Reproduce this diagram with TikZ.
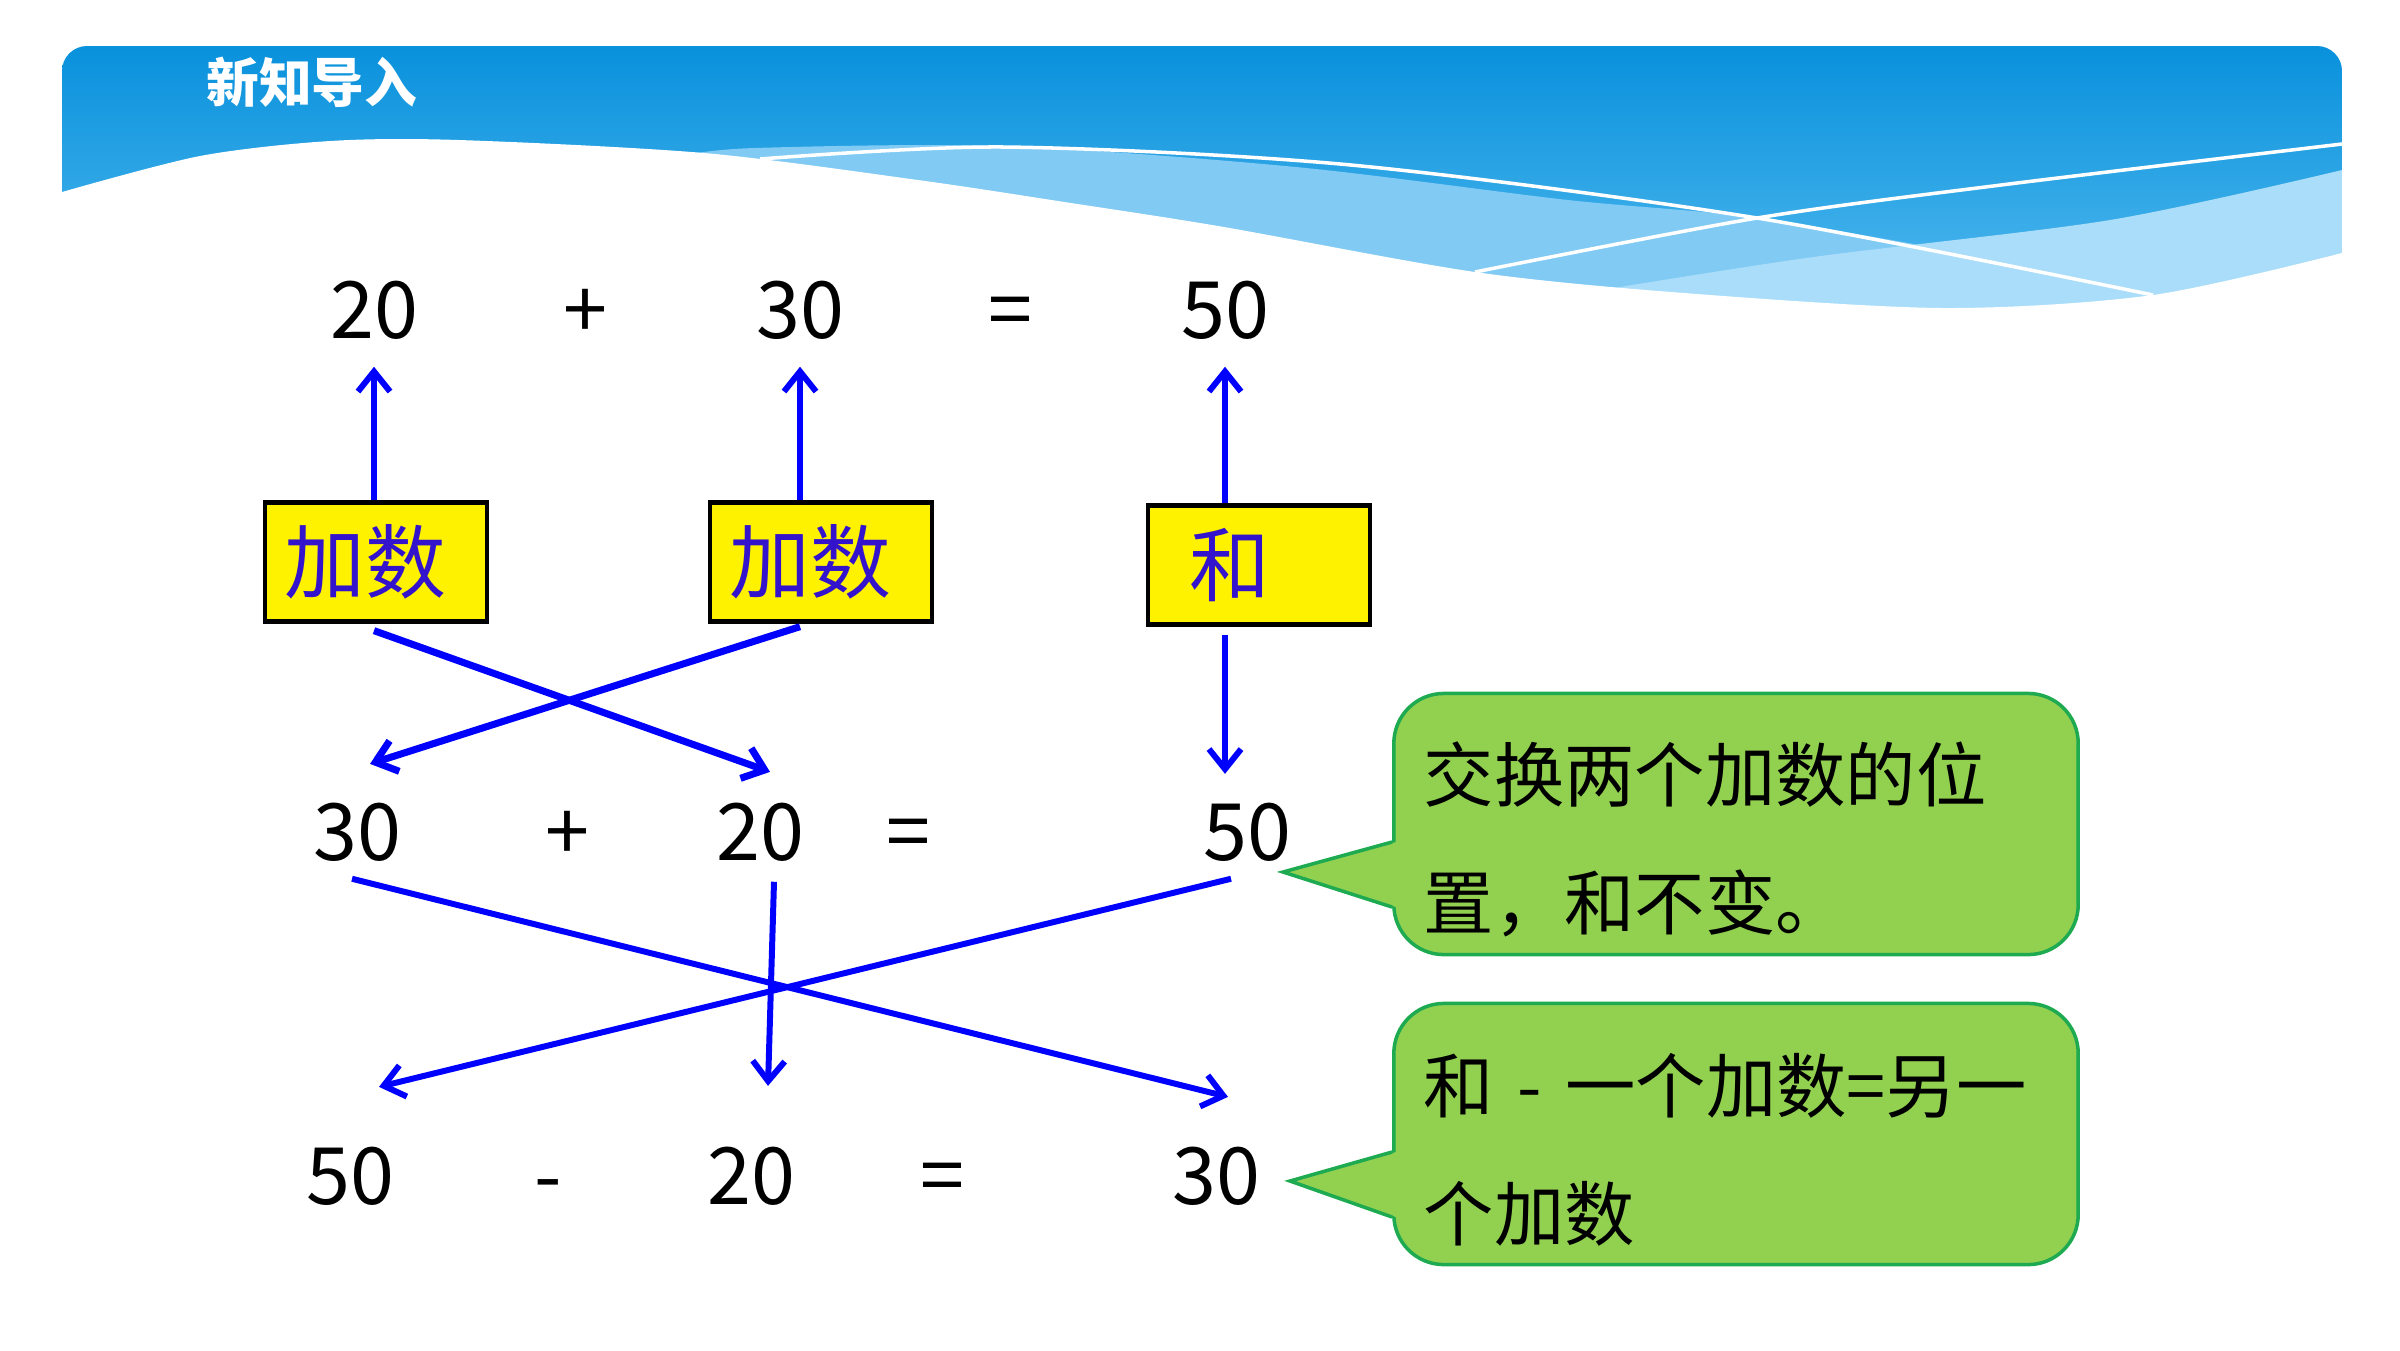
\documentclass[tikz,border=0pt]{standalone}
\usepackage{fontspec}
\setmainfont{Noto Sans CJK SC}
\usetikzlibrary{arrows.meta, calc}

\definecolor{skytop}{RGB}{9,145,220}
\definecolor{skylow}{RGB}{86,188,240}
\definecolor{waveA}{RGB}{128,202,244}
\definecolor{waveB}{RGB}{170,221,249}
\definecolor{tagblue}{RGB}{51,20,204}
\definecolor{notegreen}{RGB}{146,208,80}
\definecolor{noteedge}{RGB}{30,170,80}

\begin{document}
\begin{tikzpicture}[x=0.01cm, y=-0.01cm,
  num/.style={font=\fontsize{22.5}{26}\selectfont, anchor=base, inner sep=0pt},
  tag/.style={draw=black, line width=1.2pt, fill=yellow, minimum width=2.22cm, minimum height=1.19cm,
    text=tagblue, font=\fontsize{23}{27}\selectfont, align=left, text width=1.82cm, inner xsep=0.2cm},
  link/.style={draw=blue, line width=1.7pt, -{Straight Barb[length=0.2cm, width=0.32cm]}},
  note/.style={draw=noteedge, line width=1pt, fill=notegreen, rounded corners=0.5cm,
    minimum width=6.84cm, minimum height=2.61cm, align=left, text width=6.24cm, inner xsep=0.3cm,
    font=\fontsize{20}{36.4}\selectfont}]

\useasboundingbox (0,0) rectangle (2400,1350);

%Header band
\begin{scope}
\clip[rounded corners=0.25cm] (62,46) rectangle (2342,420);
\shade[top color=skytop, bottom color=skylow] (62,46) rectangle (2342,330);
\fill[waveA] plot[smooth] coordinates {(680,156) (754,148) (1004,146) (1296,167) (1568,200) (1757,218) (2001,260) (2153,295) (2250,320)} -- (2342,330) -- (680,330) -- cycle;
\fill[waveB] plot[smooth] coordinates {(1540,300) (1806,258) (2110,220) (2342,170)} -- (2342,330) -- (1540,330) -- cycle;
\fill[white] plot[smooth] coordinates {(62,192) (200,156) (330,141) (459,140) (704,153) (918,180) (1071,203) (1224,227) (1475,272) (1684,293) (1944,308) (2153,295) (2342,253)} -- (2342,440) -- (62,440) -- cycle;
\draw[white, line width=1pt] plot[smooth] coordinates {(760,159) (1004,147) (1351,165) (1757,218) (2153,295)};
\draw[white, line width=1pt] plot[smooth] coordinates {(1475,272) (1757,218) (2001,185) (2342,144)};
\end{scope}
\node[anchor=west, text=white, font=\fontsize{15}{18}\selectfont\bfseries] (title) at (194,82) {新知导入};

%First row
\node[num] (n1) at (374,338) {20};
\node[num] (n2p) at (585,338) {+};
\node[num] (n2) at (800,338) {30};
\node[num] (n2e) at (1010,338) {=};
\node[num] (n5) at (1225,338) {50};

%Tags
\node[tag] (b1) at (376,562) {加数};
\node[tag] (b2) at (821,562) {加数};
\node[tag] (b3) at (1259,565) {\hspace*{0.22cm}和};

%Second row
\node[num] (m1) at (357,860) {30};
\node[num] (m2) at (567,860) {+};
\node[num] (m3) at (760,860) {20};
\node[num] (m4) at (908,860) {=};
\node[num] (m5) at (1247,860) {50};

%Third row
\node[num] (r1) at (350,1204) {50};
\node[num] (r2) at (548,1204) {-};
\node[num] (r3) at (751,1204) {20};
\node[num] (r4) at (942,1204) {=};
\node[num] (r5) at (1216,1204) {30};

%Arrows
\foreach \src/\dst in {b1/n1, b2/n2, b3/n5}
\draw[link] (\src.north -| \dst) -- ($(\dst.south)+(0,27)$);

\draw[link, line width=2pt] ($(b1.south -| n1)+(0,7)$) -- ($(m3.north)+(10,-30)$);
\draw[link, line width=2pt] ($(b2.south -| n2)+(0,3)$) -- ($(m1.north)+(13,-38)$);
\draw[link] ($(b3.south -| n5)+(0,8)$) -- ($(m5.north -| n5)+(0,-28)$);

\draw[link] ($(m1.south)+(-5,17)$) -- ($(r5.north)+(12,-49)$);
\draw[link] ($(m5.south)+(-16,17)$) -- ($(r1.north)+(29,-59)$);
\draw[link] ($(m3.south)+(14,20)$) -- ($(r3.north)+(17,-60)$);

%Callouts
\node[note] (c1) at (1736,824) {\rule{0pt}{26pt}交换两个加数的位\\置，和不变。};
\coordinate (t1) at (1283,872);
\fill[notegreen] ($(c1.west)+(4,18)$) -- (t1) -- ($(c1.west)+(4,83)$) -- cycle;
\draw[noteedge, line width=1pt] ($(c1.west)+(0,18)$) -- (t1) -- ($(c1.west)+(0,83)$);

\node[note] (c2) at (1736,1134) {\rule{0pt}{26pt}和 - 一个加数=另一\\个加数};
\coordinate (t2) at (1290,1181);
\fill[notegreen] ($(c2.west)+(4,18)$) -- (t2) -- ($(c2.west)+(4,83)$) -- cycle;
\draw[noteedge, line width=1pt] ($(c2.west)+(0,18)$) -- (t2) -- ($(c2.west)+(0,83)$);

\end{tikzpicture}
\end{document}
